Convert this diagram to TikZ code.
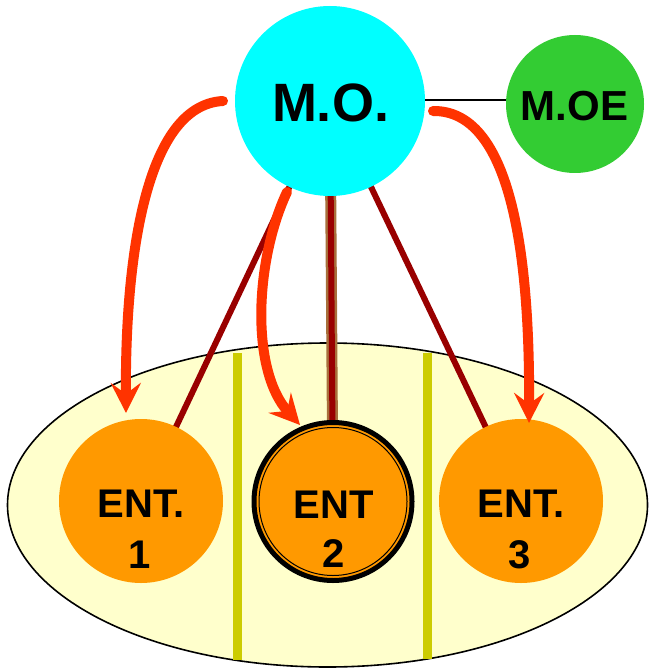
\documentclass[tikz,border=0pt]{standalone}
\usepackage{fontspec}
\setmainfont{Liberation Sans}
\usetikzlibrary{arrows.meta,backgrounds}
\definecolor{mocyan}{HTML}{00FFFF}
\definecolor{moegreen}{HTML}{33CC33}
\definecolor{entorange}{HTML}{FF9900}
\definecolor{ellfill}{HTML}{FFFFCC}
\definecolor{barcol}{HTML}{CCCC00}
\definecolor{linkred}{HTML}{990000}
\definecolor{linktan}{HTML}{A8703C}
\definecolor{arrred}{HTML}{FF3300}
\tikzset{
  circ/.style={circle, draw=none, inner sep=0pt},
  lbl/.style={inner sep=0pt, anchor=base, text=black},
  entfont/.style={font=\bfseries\fontsize{40}{40}\selectfont},
  link/.style={draw=linkred, line width=6pt},
  flow/.style={draw=arrred, line width=10pt, line cap=round,
    -{Stealth[length=30pt, width=30pt, inset=11pt]}},
}
\begin{document}
\begin{tikzpicture}[x=1pt, y=-1pt]
\useasboundingbox (0,0) rectangle (649,668);
% nodes
\node[circ, fill=mocyan, minimum size=190pt] (mo) at (330,101) {};
\node[circ, fill=moegreen, minimum size=138pt] (moe) at (575,104) {};
\node[circ, fill=entorange, minimum size=164pt] (e1) at (141,501) {};
\node[circ, fill=entorange, minimum size=164pt] (e3) at (521,501) {};
\node[circle, inner sep=0pt, fill=entorange, draw=black, line width=5pt, minimum size=158pt] (e2) at (333,501.5) {};
\node[circle, inner sep=0pt, draw=black, line width=1pt, minimum size=148pt] (e2in) at (e2.center) {};
% texts
\node[lbl, font=\bfseries\fontsize{54}{54}\selectfont] (motxt) at (330.5,122) {M.O.};
\node[lbl, font=\bfseries\fontsize{42}{42}\selectfont] (moetxt) at (574.5,121) {M.OE};
\node[lbl, entfont] (e1a) at (141,517) {ENT.};
\node[lbl, entfont] (e1b) at (140,568) {1};
\node[lbl, entfont] (e2a) at (333.5,518) {ENT};
\node[lbl, entfont] (e2b) at (333.5,567) {2};
\node[lbl, entfont] (e3a) at (521,517) {ENT.};
\node[lbl, entfont] (e3b) at (520,568) {3};
% background: ellipse, bars, links
\begin{pgfonlayer}{background}
\draw[fill=ellfill, line width=1.6pt] (327.5,505) ellipse [x radius=320, y radius=162];
\fill[barcol] (232.5,353) rectangle (241.5,660);
\fill[barcol] (422.5,353) rectangle (431.5,659);
\draw[link] (mo.center) -- (e1.center);
\draw[draw=linktan, line width=11pt] (mo.center) -- (e2.center);
\draw[link] (mo.center) -- (e2.center);
\draw[link] (mo.center) -- (e3.center);
\end{pgfonlayer}
\draw[black, line width=2pt] (mo.east |- 0,100) -- (moe.west |- 0,100);
% arrows
\coordinate (s1) at (223,101);
\coordinate (t1) at (126,413);
\coordinate (s2) at (287,192);
\coordinate (t2) at (300,425);
\coordinate (s3) at (433,111);
\coordinate (t3) at (529,423);
\draw[flow] (s1) .. controls (145,105) and (125,260) .. (t1);
\draw[flow] (s2) .. controls (255,260) and (250,370) .. (t2);
\draw[flow] (s3) .. controls (510,110) and (530,250) .. (t3);
\end{tikzpicture}
\end{document}
